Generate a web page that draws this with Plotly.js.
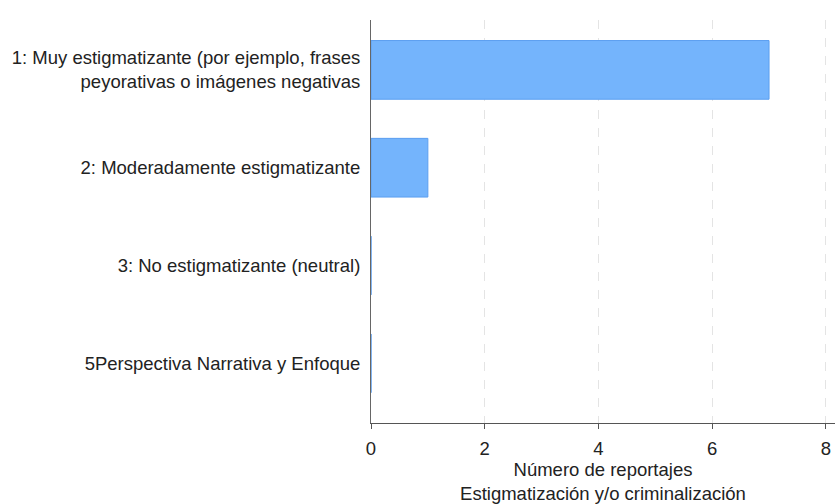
<!DOCTYPE html>
<html>
<head>
<meta charset="utf-8">
<script src="https://cdn.plot.ly/plotly-3.0.1.min.js"></script>
<style>html,body{margin:0;padding:0;background:#fff;}#chart{width:835px;height:504px;}</style>
</head>
<body>
<div id="chart"></div>
<script>
var categories = [
  "1: Muy estigmatizante (por ejemplo, frases<br>peyorativas o imágenes negativas",
  "2: Moderadamente estigmatizante",
  "3: No estigmatizante (neutral)",
  "5Perspectiva Narrativa y Enfoque"
];
var values = [7, 1, 0, 0];
var xTicks = [0, 2, 4, 6, 8];
var xTitle = "Número de reportajes<br>Estigmatización y/o criminalización";

var trace = {
  type: "bar",
  orientation: "h",
  y: categories,
  x: values,
  width: 0.6,
  marker: {color: "#74b4fc", line: {color: "#5b9ef0", width: 1}},
  hoverinfo: "x+y"
};

var layout = {
  width: 835, height: 504,
  margin: {l: 371, r: 0, t: 20, b: 81},
  paper_bgcolor: "#ffffff", plot_bgcolor: "#ffffff",
  font: {family: "Liberation Sans, Arial, sans-serif", size: 18.5, color: "#222"},
  showlegend: false,
  xaxis: {
    range: [0, 8.16],
    tickvals: xTicks,
    ticktext: xTicks.map(String),
    ticks: "outside", ticklen: 5, tickcolor: "#555", tickwidth: 1,
    ticklabelstandoff: 4,
    showline: true, linecolor: "#555", linewidth: 1,
    showgrid: true, gridcolor: "#e4e4e4", griddash: "dash", gridwidth: 1,
    zeroline: false,
    tickfont: {size: 18.5, color: "#222"},
    title: {text: xTitle, font: {size: 18.5, color: "#222"}, standoff: 4}
  },
  yaxis: {
    type: "category",
    range: [3.61, -0.51],
    showline: true, linecolor: "#666", linewidth: 1,
    showgrid: false, zeroline: false,
    ticks: "", ticklabelstandoff: 6,
    tickfont: {size: 18.5, color: "#222"}
  }
};

Plotly.newPlot("chart", [trace], layout, {displayModeBar: false, staticPlot: true});
</script>
</body>
</html>
